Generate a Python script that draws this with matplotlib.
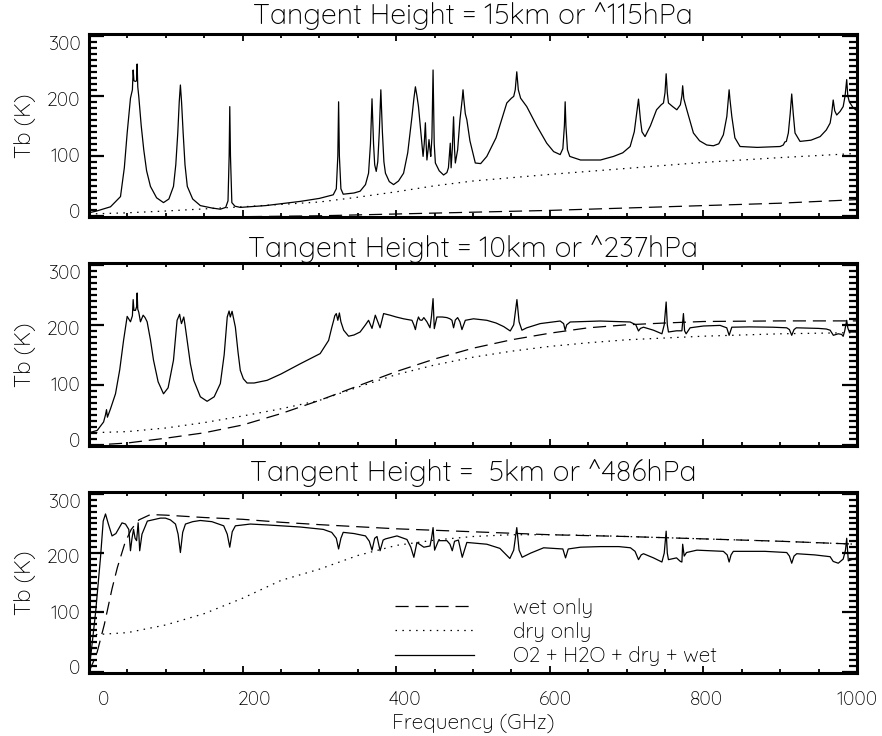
import matplotlib.pyplot as plt
from matplotlib.ticker import MultipleLocator, NullLocator

plt.rcParams['font.family'] = ['Quicksand', 'Roboto', 'DejaVu Sans']
plt.rcParams['font.weight'] = 'light'

# ---- 15 km tangent height (~115 hPa) ----
titles = ['Tangent Height = 15km or ^115hPa',
          'Tangent Height = 10km or ^237hPa',
          'Tangent Height =  5km or ^486hPa']

wet_15 = [(0, -2), (100, -2), (200, -1.5), (300, 0), (400, 3), (500, 6),
          (600, 9), (700, 13), (800, 17), (900, 21), (1000, 27)]
dry_15 = [(0, 3), (50, 5), (100, 8), (200, 15), (300, 23), (350, 31),
          (400, 40), (450, 50), (500, 58), (600, 69), (700, 79), (800, 89),
          (900, 97), (1000, 104)]
total_15 = [(0, 5), (10, 8), (28, 15), (41, 32), (46, 80), (49.7, 138), (54, 196),
            (56.5, 210), (57.5, 243), (58.5, 225), (60.5, 224), (62, 225), (62.7, 253),
            (63.5, 215), (64.8, 199), (68, 150), (71.3, 110), (75, 75), (80, 49),
            (88, 30), (97, 22), (104, 28), (110, 49), (113, 85), (115.6, 138),
            (117.5, 190), (119, 218), (120.5, 190), (122.6, 138), (125, 85), (128, 49),
            (135, 28), (145, 17), (160, 13), (171, 11), (178, 14), (181, 25),
            (182.5, 100), (183.3, 182), (184.2, 100), (186, 22), (190, 16), (197, 14),
            (230, 17), (275, 24), (300, 29), (318, 35), (322, 45), (324, 100),
            (325, 190), (326, 100), (328, 45), (331, 36), (345, 38), (353, 41),
            (360, 52), (364, 71), (366.5, 120), (368.5, 195), (370.5, 120), (372, 85),
            (374, 74), (376, 90), (378, 140), (380, 210), (382, 140), (384, 90),
            (386, 71), (391, 57), (396.6, 52), (403, 58), (409.6, 71), (415, 105),
            (420.5, 165), (423, 195), (425, 215), (427, 200), (429, 182), (432, 140),
            (435, 99), (436.5, 120), (438, 155), (439, 120), (440, 93), (441.5, 110),
            (442.7, 127), (444, 110), (445, 99), (446.5, 130), (447.5, 200), (448, 243),
            (448.5, 200), (449.5, 120), (451, 88), (456, 75), (461.7, 68), (466, 72),
            (468, 80), (470.4, 121), (471.5, 80), (473, 110), (474.7, 165), (476, 110),
            (477, 88), (480, 110), (483, 160), (486, 195), (487, 210), (488, 195),
            (490, 170), (492, 160), (496, 125), (503, 88), (510, 87), (518, 99),
            (530, 130), (544, 188), (550, 196), (553, 199), (555, 210), (557, 240),
            (559, 210), (562, 196), (570, 182), (583, 150), (596, 121), (605, 107),
            (613.5, 102), (617, 112), (619, 150), (620, 190), (621, 150), (623, 110),
            (626, 99), (640, 93), (666, 93), (683, 99), (695, 105), (704.6, 115.5),
            (710, 140), (713, 170), (715.5, 194.5), (718, 160), (720, 140), (724, 132),
            (731, 150), (739, 176.7), (745, 185), (748, 188), (750, 205), (751.5, 236.7),
            (753, 205), (754.5, 188), (760, 182), (765.4, 176.7), (770, 185), (772, 200),
            (773, 216.7), (774.5, 195), (778.4, 176.7), (787, 138), (795, 125),
            (804.4, 118), (813, 116.7), (820, 120), (826, 135), (830.5, 165.5),
            (832.5, 195), (833.5, 210), (834.5, 195), (837, 165.5), (841, 130),
            (847.7, 115.5), (870, 114), (900, 115.5), (904, 118), (906, 123), (908, 124),
            (910.6, 138), (913, 170), (915, 203), (917, 170), (919.3, 138), (925.8, 124),
            (940, 126), (952, 132), (960, 143), (965, 154.5), (967, 170), (969, 193),
            (971, 175), (973.6, 168), (978, 174), (982, 182), (984.5, 200), (986.6, 227),
            (988, 200), (990, 190), (995, 180), (1000, 175)]

# ---- 10 km tangent height (~237 hPa) ----
wet_10 = [(0, -1), (50, 3), (100, 11), (150, 20), (200, 33), (250, 52), (300, 74),
          (350, 98), (400, 122), (450, 143), (500, 161), (550, 175), (600, 186),
          (650, 195), (700, 200), (750, 203), (800, 205.5), (900, 206.5), (1000, 206.5)]
dry_10 = [(0, 20), (50, 22), (100, 28), (150, 37), (200, 48), (250, 60), (300, 74),
          (350, 96), (400, 117), (450, 133), (500, 146), (550, 156), (600, 164),
          (650, 170), (700, 175), (800, 181), (900, 185), (1000, 187)]
total_10 = [(0, 20), (10.7, 24), (19, 38), (21.5, 50), (22.8, 58.6), (24, 46), (28, 60),
            (34.5, 85), (40, 125), (45, 174), (49.7, 214), (54, 205), (56.5, 215),
            (57.5, 242), (58.5, 224), (60.5, 224), (62, 230), (62.7, 253), (63.5, 226),
            (64.8, 221), (67, 205), (70.5, 216), (73, 212), (75.7, 205), (80, 175),
            (84, 141), (90, 105), (97, 85), (103, 95), (110, 141), (114.7, 207.5),
            (118, 217.5), (119, 210), (120.4, 202), (123.4, 213), (125, 200),
            (127.8, 174), (132, 135), (136.4, 107.5), (145, 80), (153.8, 72.5), (163, 80),
            (171, 102), (176, 150), (180, 213), (182.4, 223), (184, 213), (186.3, 222.5),
            (188, 212), (190.6, 196), (194, 155), (197, 124), (201, 110), (205.8, 103),
            (215, 103), (232, 107.5), (250, 118), (275, 135), (301, 152), (312, 174),
            (316, 195), (318.6, 207.5), (320, 215), (322, 218.7), (324, 207.5),
            (326, 219.7), (328, 205), (331.6, 191), (338, 181), (345, 183), (353, 188),
            (360, 200), (364, 207.5), (368.5, 194), (372.8, 216), (376, 205), (379, 195),
            (383.6, 218.7), (392, 216), (400, 213), (409.6, 210), (420.5, 207.5),
            (423, 200), (425, 192), (427, 205), (429, 213), (431, 208), (433.5, 207.5),
            (436, 212), (440, 205), (444, 195), (446, 215), (448, 243.6), (449.6, 193.6),
            (453, 213), (460, 213), (466, 212), (470, 210), (472.6, 207.5), (474.7, 195),
            (477, 208), (480, 212), (483, 205), (485.6, 192), (490, 207.5), (500.7, 210),
            (518, 207.5), (530, 203), (540, 197), (548.5, 189.7), (553, 200),
            (557.2, 242), (560, 205), (563.7, 191), (570, 195), (587.5, 202),
            (613.5, 206.3), (618, 202), (620, 191), (622, 200), (626.6, 204.7),
            (665.6, 206.3), (704.6, 204.7), (712, 200), (715.5, 189.7), (718, 194),
            (722, 196), (735, 191), (746, 185), (749, 200), (751.5, 238), (753, 200),
            (754.5, 188), (765, 190), (772, 190), (774, 218.7), (775.5, 190),
            (777.5, 185), (782.7, 195), (800, 198), (821.7, 199), (830.4, 195),
            (833.5, 182.5), (837, 196), (860, 196.5), (890, 196), (908.5, 195),
            (912, 192), (915, 182.5), (918, 192), (921, 195), (950, 194), (960, 193),
            (965, 191), (969.2, 182.5), (975.6, 185), (980, 184), (982, 180.8),
            (984, 190), (986.6, 207.5), (988, 195), (990, 188), (1000, 188)]

# ---- 5 km tangent height (~486 hPa) ----
wet_5 = [(0, 0), (10, 30), (20, 80), (30, 140), (37, 176), (47, 218), (55, 240),
         (65, 256), (80, 265), (100, 264), (150, 260), (200, 257), (250, 252),
         (300, 248), (400, 241), (500, 236), (600, 231), (700, 228), (800, 224),
         (900, 220), (1000, 215)]
dry_5 = [(0, 62), (50, 66), (100, 79), (150, 98), (200, 124), (250, 154), (300, 173),
         (350, 196), (400, 213), (450, 222), (500, 228), (550, 231), (600, 231),
         (650, 230), (700, 228), (800, 224), (900, 220), (1000, 215)]
total_5 = [(0, 2), (3, 35), (8.5, 99), (15, 193), (18.5, 254), (21.5, 266), (25, 250),
           (30, 229), (35, 233), (43, 251), (47.5, 249), (51.8, 240), (54, 204),
           (56, 225), (58, 240), (60, 225), (62, 221), (63, 235), (64, 251), (65, 230),
           (66, 204), (69, 232), (76, 254), (93, 259), (99.5, 259), (106, 256),
           (112.6, 249), (116, 232), (119, 201), (122, 235), (125.6, 249), (135, 253),
           (145, 255), (160, 253), (175.4, 246), (180, 232), (183.3, 210), (186.5, 236),
           (190.6, 246), (210, 249), (232, 247.5), (275, 244), (305, 240), (316, 235),
           (322, 225), (325, 207), (328, 225), (331, 235), (345, 233), (360, 229),
           (365, 220), (368.5, 205), (372, 225), (375, 228), (379, 204), (383, 222),
           (386, 224), (401, 229), (414, 223), (419, 210), (423, 193), (427, 218),
           (436, 210), (444, 212), (446, 225), (448, 243), (450, 205), (455, 221),
           (466, 221), (470, 215), (473, 204), (476, 220), (481, 222), (486, 193),
           (492, 218), (518, 215), (535, 208), (548, 191), (553, 205), (557, 243),
           (560, 205), (564, 193), (575, 200), (592, 209), (617, 207), (620.5, 192),
           (624, 207), (640, 210), (666, 211), (690, 211), (705, 209), (711, 203),
           (715.5, 189), (719, 197), (722, 199), (735, 192), (746, 185), (749, 200),
           (751.5, 237), (753, 200), (754.5, 189), (765, 192), (770, 186), (772, 185),
           (773, 215), (775, 195), (778, 201), (791.5, 205), (826, 203), (831, 197),
           (833.5, 185), (836, 197), (839, 203), (880, 203), (908.5, 201), (912, 195),
           (915, 183), (918, 195), (921.5, 199), (945, 197), (965, 194), (969, 186),
           (975.6, 183), (982, 190), (985, 205), (986.6, 225), (988.7, 187), (995, 190),
           (1000, 192)]

panels = [(wet_15, dry_15, total_15), (wet_10, dry_10, total_10), (wet_5, dry_5, total_5)]

freq_ticks = [0, 200, 400, 600, 800, 1000]
tb_ticks = [0, 100, 200, 300]
legend_labels = ['wet only', 'dry only', 'O2 + H2O + dry + wet']

DASH = (10.5, 5.5)
DOT = (1.2, 4.3)
LW = 0.9

fig = plt.figure(figsize=(8.82, 7.36), dpi=100)
W, H = 882.0, 736.0
boxes = [(34, 217), (263, 446), (492, 673)]
title_pads = [7, 4, 8]

# IDL draws its labels on a slightly shifted scale from its tick marks
def fx(f): return (f - 19.0) / 0.981
def fx_inv(v): return 19.0 + 0.981 * v
def fy(t): return (t - 8.0) / 0.933
def fy_inv(v): return 8.0 + 0.933 * v

for i, (top, bot) in enumerate(boxes):
    ax = fig.add_axes([89 / W, 1 - bot / H, 768 / W, (bot - top) / H])
    wet, dry, tot = panels[i]
    l1, = ax.plot(*zip(*wet), color='k', lw=LW, dashes=DASH)
    l2, = ax.plot(*zip(*dry), color='k', lw=LW, dashes=DOT)
    l3, = ax.plot(*zip(*tot), color='k', lw=LW)

    ax.set_xlim(0, 1000)
    ax.set_ylim(-2, 303)
    for s in ax.spines.values():
        s.set_linewidth(2.2)

    ax.xaxis.set_major_locator(MultipleLocator(200))
    ax.xaxis.set_minor_locator(MultipleLocator(50))
    ax.yaxis.set_major_locator(MultipleLocator(100))
    ax.yaxis.set_minor_locator(MultipleLocator(10))
    ax.tick_params(axis='x', which='both', direction='in', top=True, bottom=True,
                   labelbottom=False, width=1.3)
    ax.tick_params(axis='x', which='major', length=5)
    ax.tick_params(axis='x', which='minor', length=3)
    ax.tick_params(axis='y', which='both', direction='in', left=True, right=True,
                   labelleft=False, width=1.6)
    ax.tick_params(axis='y', which='major', length=11)
    ax.tick_params(axis='y', which='minor', length=6)

    ax.set_title(titles[i], fontsize=20.5, pad=title_pads[i])

    sy = ax.secondary_yaxis('left', functions=(fy, fy_inv))
    sy.set_yticks(tb_ticks)
    sy.yaxis.set_minor_locator(NullLocator())
    sy.tick_params(length=0, pad=6, labelsize=14)
    sy.spines['left'].set_visible(False)
    sy.set_ylabel('Tb (K)', fontsize=16, labelpad=8)

    if i == 2:
        sx = ax.secondary_xaxis('bottom', functions=(fx, fx_inv))
        sx.set_xticks(freq_ticks)
        sx.xaxis.set_minor_locator(NullLocator())
        sx.tick_params(length=0, pad=13, labelsize=14)
        sx.spines['bottom'].set_visible(False)
        sx.set_xlabel('Frequency (GHz)', fontsize=15, labelpad=3)

        ax.legend([l1, l2, l3], legend_labels, loc='lower left',
                  bbox_to_anchor=(399, 10), bbox_transform=ax.transData,
                  frameon=False, fontsize=15, handlelength=3.75,
                  handletextpad=1.9, labelspacing=0.2, borderpad=0,
                  borderaxespad=0)

fig.savefig('out.png', dpi=100)
